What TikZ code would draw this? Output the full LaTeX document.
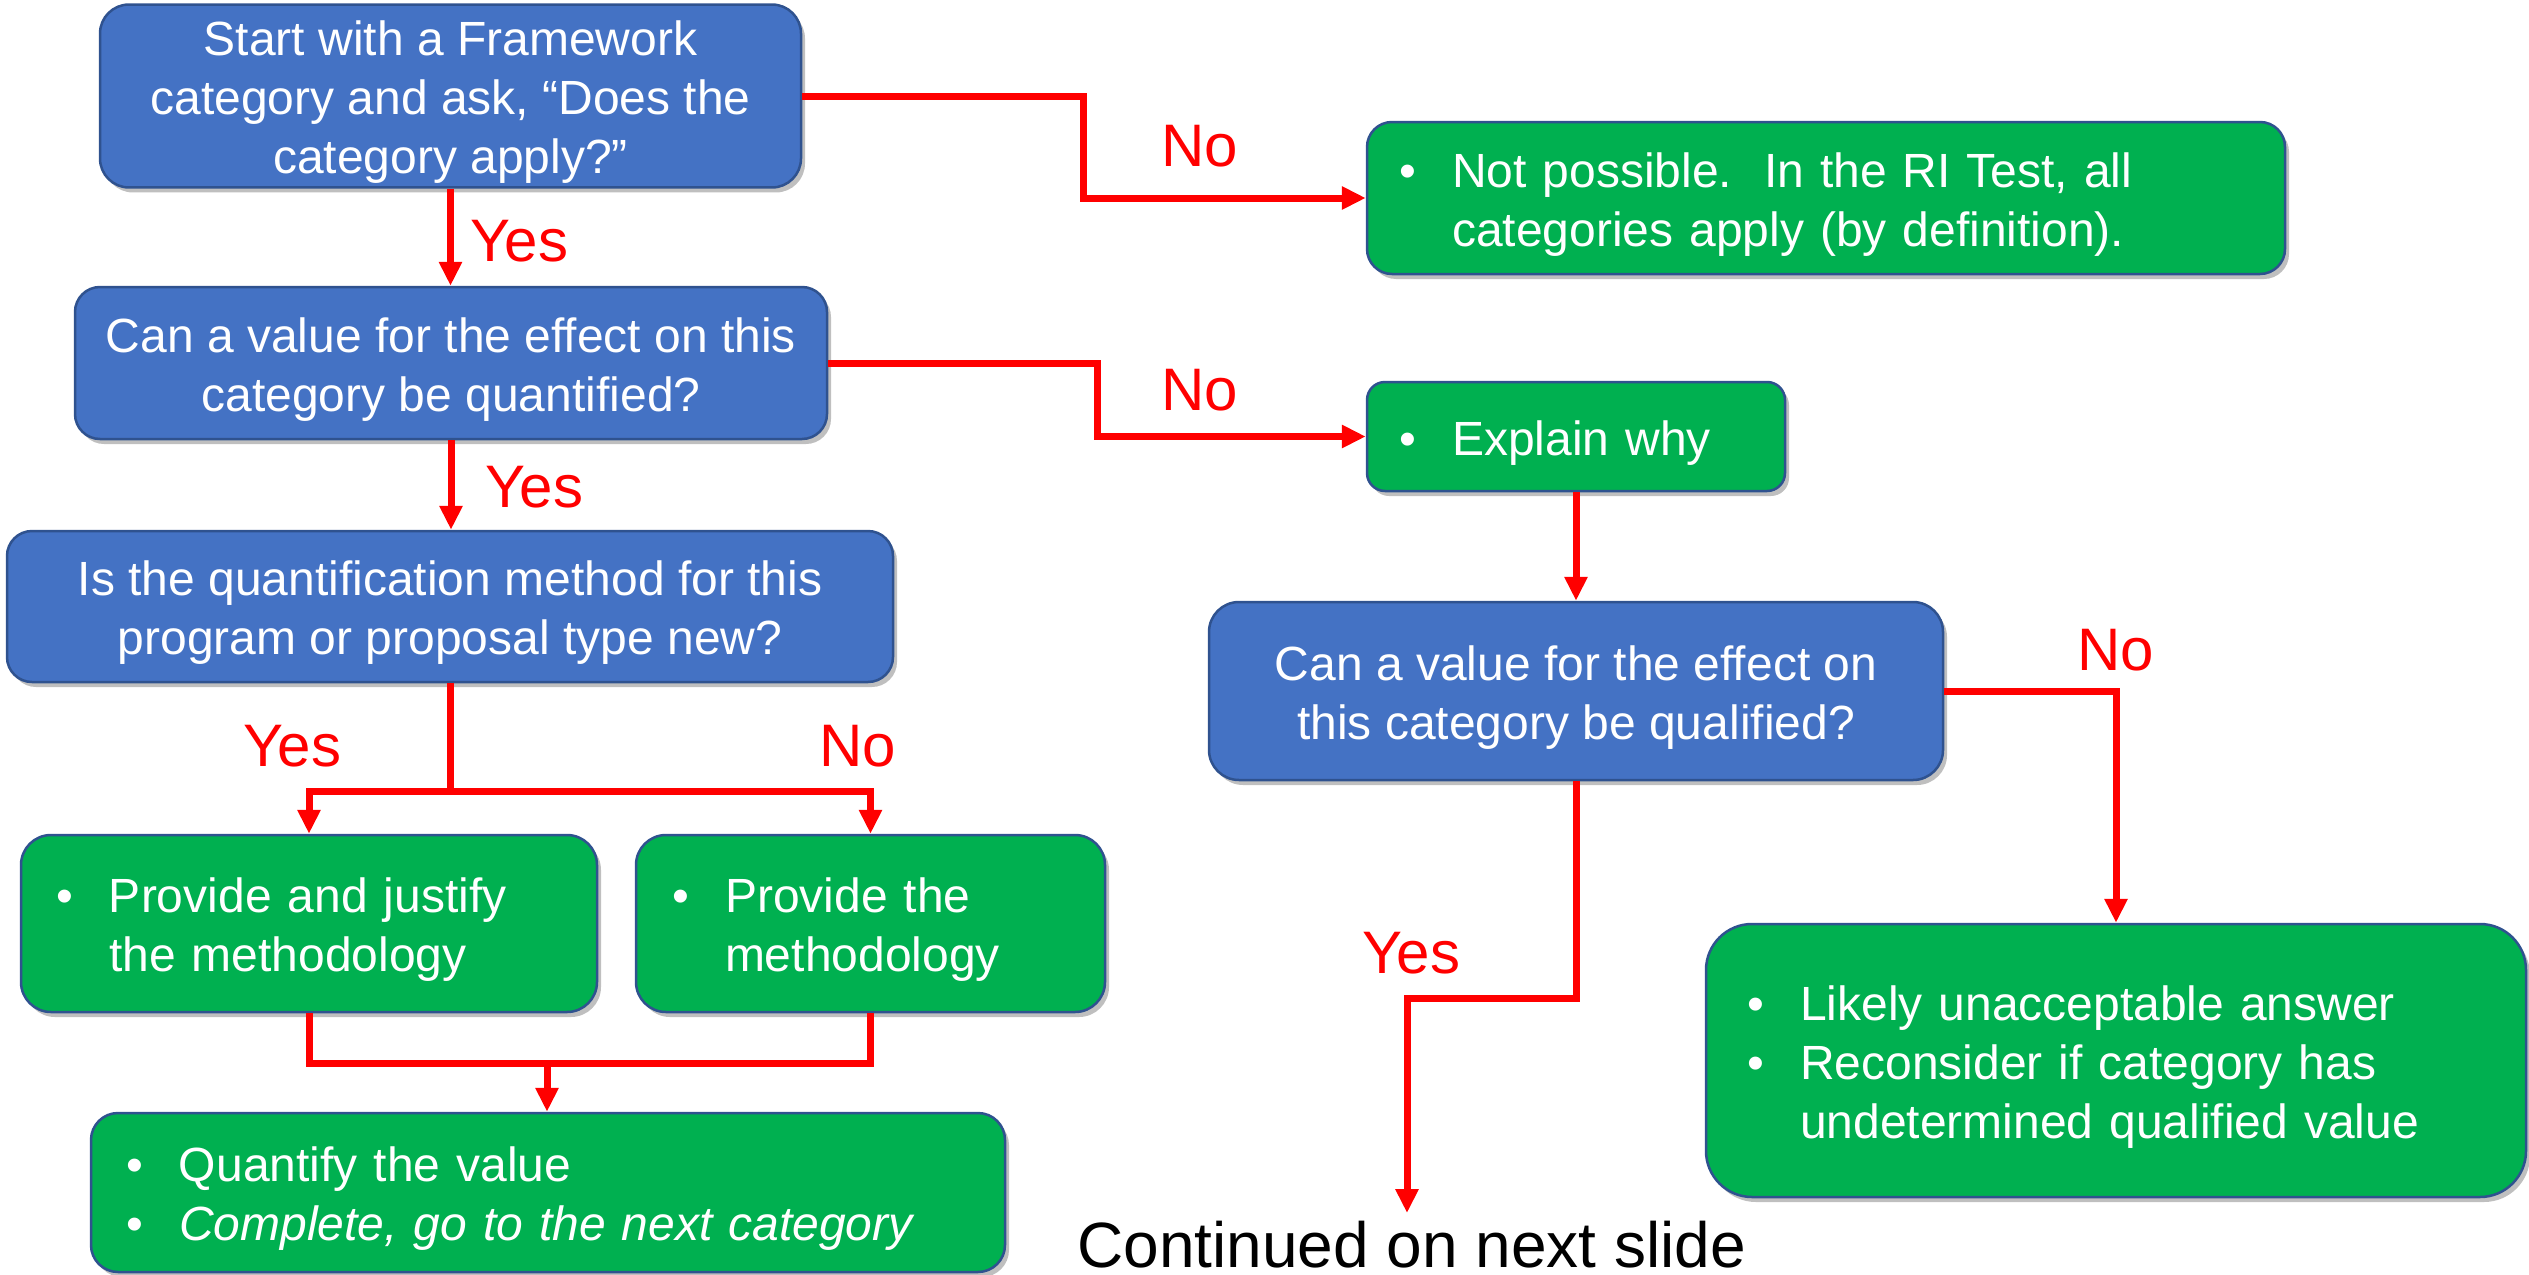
\documentclass[tikz,border=0pt]{standalone}
\usepackage{fontspec}
\setmainfont{Liberation Sans}
\usetikzlibrary{arrows.meta,shadows}
\definecolor{pblue}{HTML}{4472C4}
\definecolor{pgreen}{HTML}{00B050}
\definecolor{pborder}{HTML}{2F528F}
\definecolor{pred}{HTML}{FF0000}
\newcommand{\bitem}{\makebox[53pt][l]{•}}
\newcommand{\bcont}{\hspace*{53pt}}
\newcommand{\tstrut}{\rule{0pt}{47pt}}
\tikzset{
  boxbase/.style={draw=pborder, line width=2.5pt, text=white,
    font=\fontsize{48}{59}\selectfont,
    drop shadow={shadow xshift=4pt, shadow yshift=-5pt, opacity=0.25, fill=black}},
  bluebox/.style={boxbase, fill=pblue, align=center, inner sep=4pt},
  greenbox/.style={boxbase, fill=pgreen, align=left, inner ysep=4pt},
  conn/.style={draw=pred, line width=7pt, -{Triangle[length=24pt,width=22pt]}},
  plainconn/.style={draw=pred, line width=7pt},
  lbl/.style={text=pred, font=\fontsize{60}{72}\selectfont, inner sep=0pt, anchor=west}
}
\begin{document}
\begin{tikzpicture}[x=1pt,y=-1pt]
\useasboundingbox (0,0) rectangle (2529,1274);

% blue decision boxes
\node[bluebox, rounded corners=29pt, minimum width=701pt, minimum height=172pt] (b1) at (450.5,96)
  {\tstrut Start with a Framework\\category and ask, “Does the\\category apply?”};
\node[bluebox, rounded corners=25pt, minimum width=752pt, minimum height=152pt] (b2) at (451,363)
  {\tstrut Can a value for the effect on this\\category be quantified?};
\node[bluebox, rounded corners=25pt, minimum width=886pt, minimum height=151pt] (b3) at (450,606.5)
  {\tstrut Is the quantification method for this\\program or proposal type new?};
\node[bluebox, rounded corners=30pt, minimum width=734pt, minimum height=178pt] (b6) at (1576,691)
  {\tstrut Can a value for the effect on\\this category be qualified?};

% green boxes
\node[greenbox, rounded corners=25pt, minimum height=152pt, inner xsep=32pt, text width=854pt] (b4) at (1826,198)
  {\tstrut\bitem Not possible.~~In the RI Test, all\\\bcont categories apply (by definition).};
\node[greenbox, rounded corners=18pt, minimum height=109pt, inner xsep=32pt, text width=354pt] (b5) at (1576,436.5)
  {\tstrut\bitem Explain why};
\node[greenbox, rounded corners=46pt, minimum height=273pt, inner xsep=41pt, text width=738pt] (b7) at (2116,1060.5)
  {\tstrut\bitem Likely unacceptable answer\\\bitem Reconsider if category has\\\bcont undetermined qualified value};
\node[greenbox, rounded corners=30pt, minimum height=177pt, inner xsep=35pt, text width=506pt] (b8) at (309,923.5)
  {\tstrut\bitem Provide and justify\\\bcont the methodology};
\node[greenbox, rounded corners=30pt, minimum height=177pt, inner xsep=36pt, text width=397pt] (b9) at (870.5,923.5)
  {\tstrut\bitem Provide the\\\bcont methodology};
\node[greenbox, rounded corners=27pt, minimum height=159pt, inner xsep=35pt, text width=844pt] (b10) at (548,1192.5)
  {\tstrut\bitem Quantify the value\\\bitem \textit{Complete, go to the next category}};

\node[anchor=base west, inner sep=0pt, font=\fontsize{64}{77}\selectfont] (cont) at (1077,1267) {Continued on next slide};

% coordinates
\coordinate (fork) at (450,791);
\coordinate (merge) at (547,1063);
\coordinate (contpt) at (1407,1213);

% connectors
\draw[conn] (b1.south) -- (b1.south |- b2.north);
\draw[conn] (b2.south) -- (b2.south |- b3.north);
\draw[conn] (b1.east) -- ++(281,0) |- (b4.west);
\draw[conn] (b2.east) -- ++(269,0) |- (b5.west);
\draw[conn] (b5.south) -- (b6.north);
\draw[conn] (b6.east) -| (b7.north);
\draw[conn] (b6.south) |- (1407,998) -- (contpt);
\draw[plainconn] (b3.south) -- (fork);
\draw[conn] (fork) -| (b8.north);
\draw[conn] (fork) -| (b9.north);
\draw[plainconn] (b8.south) |- (merge) -| (b9.south);
\draw[conn] (merge) -- (merge |- b10.north);

% labels
\node[lbl] (y1) at (470,241) {Yes};
\node[lbl] (y2) at (485,487) {Yes};
\node[lbl] (n1) at (1161,146) {No};
\node[lbl] (n2) at (1161,390) {No};
\node[lbl] (n3) at (2077,650) {No};
\node[lbl] (y4) at (243,746) {Yes};
\node[lbl] (n4) at (819,746) {No};
\node[lbl] (y3) at (1362,953) {Yes};
\end{tikzpicture}
\end{document}
